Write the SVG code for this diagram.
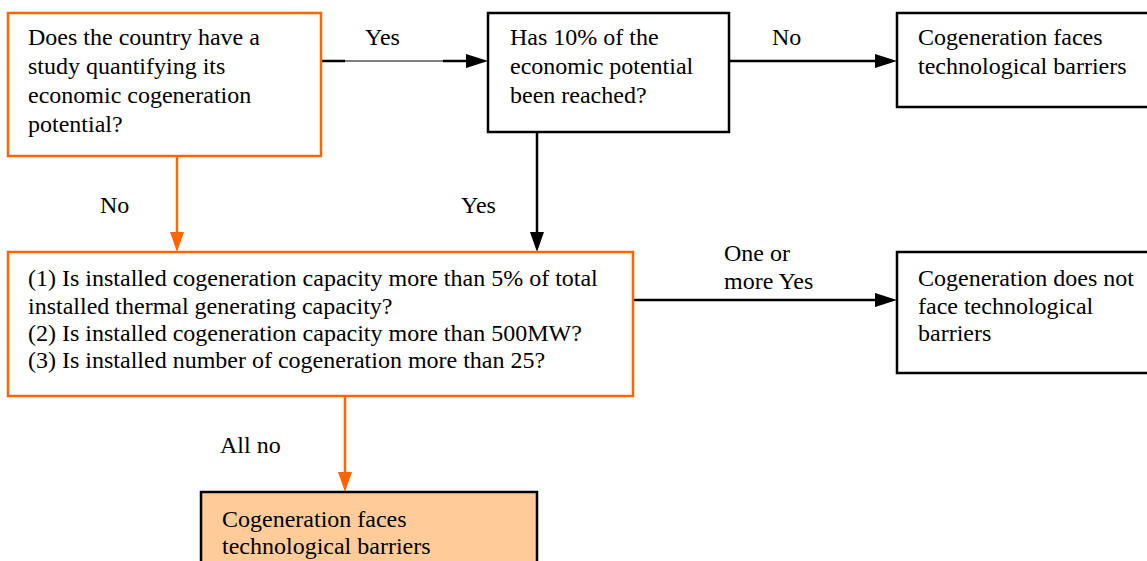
<svg xmlns="http://www.w3.org/2000/svg" width="1147" height="561" viewBox="0 0 1147 561" font-family="Liberation Serif, Times New Roman, serif" font-size="24">
<style>
text{font-family:'Liberation Serif','Times New Roman',serif;font-size:24px;fill:#000}
.o{fill:#fff;stroke:#FF6600;stroke-width:2.5}
.b{fill:#fff;stroke:#000;stroke-width:2.5}
.f{fill:#FFCC99;stroke:#000;stroke-width:2.5}
.ck{stroke:#000;stroke-width:2.5;fill:none}
.co{stroke:#FF6600;stroke-width:2.5;fill:none}
</style>
<g id="connectors">
<path d="M321,61H345" class="ck"/>
<path d="M345,61H443" stroke="#000" stroke-width="1" fill="none"/>
<path d="M443,61H466" class="ck"/>
<path d="M466,54L488,61L466,68z" fill="#000"/>
<path d="M729,61H875" class="ck"/>
<path d="M875,54L897,61L875,68z" fill="#000"/>
<path d="M177,156V232" class="co"/>
<path d="M170,232L177,252L184,232z" fill="#FF6600"/>
<path d="M537,132V232" class="ck"/>
<path d="M530,232L537,252L544,232z" fill="#000"/>
<path d="M633,300H875" class="ck"/>
<path d="M875,293L897,300L875,307z" fill="#000"/>
<path d="M345,396V472" class="co"/>
<path d="M338,472L345,492L352,472z" fill="#FF6600"/>
<text x="365" y="45">Yes</text>
<text x="772" y="45">No</text>
<text x="100" y="213">No</text>
<text x="461" y="213">Yes</text>
<text x="724" y="261">One or</text>
<text x="724" y="289">more Yes</text>
<text x="220" y="453">All no</text>
</g>
<g id="n1">
<rect x="8" y="13" width="313" height="143" class="o"/>
<text x="28" y="45">Does the country have a</text>
<text x="28" y="74">study quantifying its</text>
<text x="28" y="103">economic cogeneration</text>
<text x="28" y="132">potential?</text>
</g>
<g id="n2">
<rect x="488" y="13" width="241" height="119" class="b"/>
<text x="510" y="45">Has 10% of the</text>
<text x="510" y="74">economic potential</text>
<text x="510" y="103">been reached?</text>
</g>
<g id="n3">
<rect x="897" y="13" width="260" height="94" class="b"/>
<text x="918" y="45">Cogeneration faces</text>
<text x="918" y="74">technological barriers</text>
</g>
<g id="n4">
<rect x="8" y="252" width="625" height="144" class="o"/>
<text x="28" y="286">(1) Is installed cogeneration capacity more than 5% of total</text>
<text x="28" y="314">installed thermal generating capacity?</text>
<text x="28" y="341">(2) Is installed cogeneration capacity more than 500MW?</text>
<text x="28" y="368">(3) Is installed number of cogeneration more than 25?</text>
</g>
<g id="n5">
<rect x="897" y="252" width="260" height="121" class="b"/>
<text x="918" y="286">Cogeneration does not</text>
<text x="918" y="314">face technological</text>
<text x="918" y="341">barriers</text>
</g>
<g id="n6">
<rect x="201" y="492" width="336" height="80" class="f"/>
<text x="222" y="527">Cogeneration faces</text>
<text x="222" y="554">technological barriers</text>
</g>
</svg>
